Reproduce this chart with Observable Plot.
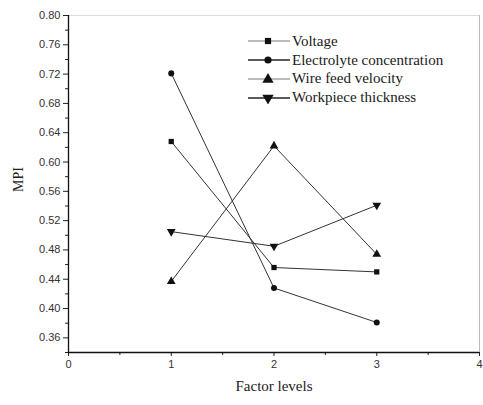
<!DOCTYPE html>
<html>
<head>
<meta charset="utf-8">
<script src="https://cdn.jsdelivr.net/npm/d3@7"></script>
<script src="https://cdn.jsdelivr.net/npm/@observablehq/plot@0.6"></script>
<style>
  body { margin: 0; background: #fff; }
  #wrap { position: relative; width: 483px; height: 405px; overflow: hidden; background: #fff; }
  #legend { position: absolute; left: 246px; top: 32px; font-family: "Liberation Serif", "Times New Roman", serif; font-size: 15px; color: #1a1a1a; white-space: nowrap; }
  .row { display: flex; align-items: center; height: 18.8px; }
  .row svg { margin-right: 1px; }
</style>
</head>
<body>
<div id="wrap"><div id="legend"></div></div>
<script>
const levels = [1, 2, 3];
const seriesNames = ["Voltage", "Electrolyte concentration", "Wire feed velocity", "Workpiece thickness"];
const voltage = [0.628, 0.456, 0.450];
const electrolyte = [0.721, 0.428, 0.381];
const wireFeed = [0.437, 0.622, 0.474];
const workpiece = [0.505, 0.485, 0.541];
const xTicks = [0, 1, 2, 3, 4];
const xMinor = [0.5, 1.5, 2.5, 3.5];
const yTicks = [0.36, 0.40, 0.44, 0.48, 0.52, 0.56, 0.60, 0.64, 0.68, 0.72, 0.76, 0.80];
const yMinor = [0.34, 0.38, 0.42, 0.46, 0.50, 0.54, 0.58, 0.62, 0.66, 0.70, 0.74, 0.78];

const symbols = ["square", "circle", "triangle", "triangle"];
const rotations = [0, 0, 0, 180];
const sizes = [3.5, 3.6, 4.2, 4.2];
const allValues = [voltage, electrolyte, wireFeed, workpiece];

const data = [];
allValues.forEach((vals, i) => {
  vals.forEach((v, j) => data.push({series: seriesNames[i], idx: i, x: levels[j], y: v}));
});

const chart = Plot.plot({
  width: 483,
  height: 405,
  marginLeft: 68,
  marginRight: 4,
  marginTop: 15,
  marginBottom: 53,
  style: {fontFamily: "'Liberation Sans', Arial, sans-serif", fontSize: "11px", color: "#333", background: "#fff"},
  x: {domain: [0, 4]},
  y: {domain: [0.34, 0.80]},
  marks: [
    Plot.ruleY([0.80], {stroke: "#ddd", strokeWidth: 1}),
    Plot.ruleX([4], {stroke: "#bbb", strokeWidth: 1}),
    Plot.axisY({ticks: yTicks, tickFormat: d3.format(".2f"), tickSize: 5, tickPadding: 3, label: null, fill: "#333", stroke: "#222"}),
    Plot.axisY({ticks: yMinor, tickFormat: null, text: null, tickSize: 3, label: null, stroke: "#222"}),
    Plot.axisX({ticks: xTicks, tickFormat: d3.format("d"), tickSize: 4, tickPadding: 4, label: null, fill: "#333", stroke: "#222"}),
    Plot.axisX({ticks: xMinor, text: null, tickSize: 3, label: null, stroke: "#222"}),
    Plot.ruleX([0], {stroke: "#111", strokeWidth: 1.3}),
    Plot.ruleY([0.34], {stroke: "#111", strokeWidth: 1.3}),
    Plot.line(data, {x: "x", y: "y", z: "series", stroke: "#333", strokeWidth: 1}),
    Plot.dot(data, {x: "x", y: "y", fill: "#111", stroke: null,
      symbol: d => symbols[d.idx], rotate: d => rotations[d.idx], r: d => sizes[d.idx]}),
    Plot.text(["Factor levels"], {frameAnchor: "bottom", dy: 38, fontFamily: "'Liberation Serif', 'Times New Roman', serif", fontSize: 15, fill: "#222"}),
    Plot.text(["MPI"], {frameAnchor: "left", dx: -50, dy: 8, rotate: -90, fontFamily: "'Liberation Serif', 'Times New Roman', serif", fontSize: 14, fill: "#222"})
  ]
});
chart.style.position = "absolute";
chart.style.left = "0";
chart.style.top = "0";
const wrap = document.getElementById("wrap");
wrap.insertBefore(chart, wrap.firstChild);

const legend = document.getElementById("legend");
const lineColors = ["#777", "#222", "#777", "#222"];
seriesNames.forEach((name, i) => {
  const row = document.createElement("div");
  row.className = "row";
  const svg = d3.create("svg").attr("width", 45).attr("height", 12);
  svg.append("line").attr("x1", 2).attr("x2", 44).attr("y1", 6).attr("y2", 6).attr("stroke", lineColors[i]).attr("stroke-width", i % 2 ? 1.3 : 1);
  const sym = {square: d3.symbolSquare, circle: d3.symbolCircle, triangle: d3.symbolTriangle}[symbols[i]];
  svg.append("path").attr("d", d3.symbol(sym, sizes[i] * sizes[i] * Math.PI)()).attr("fill", "#111")
    .attr("transform", `translate(22,${i === 2 ? 6.5 : 6}) rotate(${rotations[i]})`);
  row.appendChild(svg.node());
  const span = document.createElement("span");
  span.textContent = name;
  row.appendChild(span);
  legend.appendChild(row);
});
</script>
</body>
</html>
